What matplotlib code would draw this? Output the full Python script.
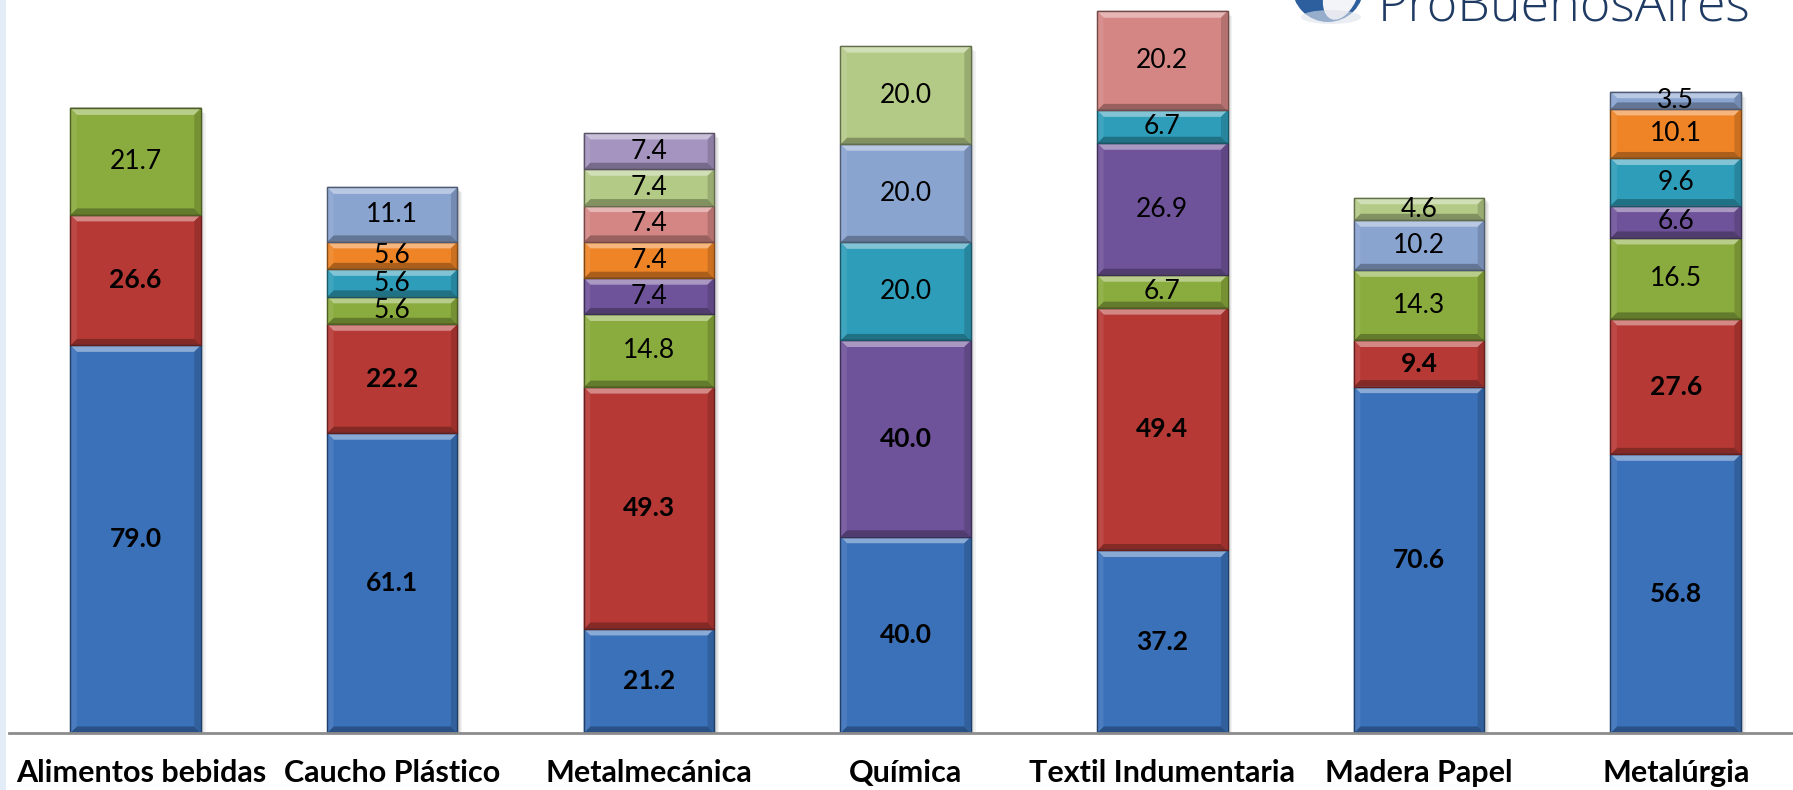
import matplotlib
matplotlib.use("Agg")
import matplotlib.pyplot as plt
import matplotlib.colors as mcolors
from matplotlib.patches import Polygon, Circle, Ellipse, Rectangle
from matplotlib.transforms import ScaledTranslation

# --- data -------------------------------------------------------------
categories = ["Alimentos bebidas", "Caucho Plástico", "Metalmecánica", "Química",
              "Textil Indumentaria", "Madera Papel", "Metalúrgia"]

s_blue = [79.0, 61.1, 21.2, 40.0, 37.2, 70.6, 56.8]
s_red = [26.6, 22.2, 49.3, 0, 49.4, 9.4, 27.6]
s_green = [21.7, 5.6, 14.8, 0, 6.7, 14.3, 16.5]
s_purple = [0, 0, 7.4, 40.0, 26.9, 0, 6.6]
s_cyan = [0, 5.6, 0, 20.0, 6.7, 0, 9.6]
s_orange = [0, 5.6, 7.4, 0, 0, 0, 10.1]
s_rose = [0, 0, 7.4, 0, 20.2, 0, 0]
s_lightblue = [0, 11.1, 0, 20.0, 0, 10.2, 3.5]
s_lightgreen = [0, 0, 7.4, 20.0, 0, 4.6, 0]
s_lavender = [0, 0, 7.4, 0, 0, 0, 0]

series = [s_blue, s_red, s_green, s_purple, s_cyan, s_orange,
          s_rose, s_lightblue, s_lightgreen, s_lavender]
colors = ["#3A71B9", "#B63935", "#8AAB3D", "#6F539A", "#2E9DB9", "#EE8426",
          "#D38683", "#8AA4D0", "#B3CA86", "#A494BF"]
# labels drawn in bold: whole first two series plus one extra cell
bold_series = {0, 1}
bold_cells = {(3, 3)}

# --- figure -----------------------------------------------------------
W, H, DPI = 1793, 790, 100
fig = plt.figure(figsize=(W / DPI, H / DPI), dpi=DPI)
fig.patch.set_facecolor("white")

ax = fig.add_axes([9 / W, 57 / H, 1 - 9 / W, 733 / H])
ax.set_xlim(-0.493, 6.457)
ax.set_ylim(0, 149.4)
for side in ("top", "right", "left"):
    ax.spines[side].set_visible(False)
ax.spines["bottom"].set_color("#8C8C8C")
ax.spines["bottom"].set_linewidth(2)
ax.spines["bottom"].set_zorder(5)
ax.set_yticks([])

x = list(range(len(categories)))
width = 0.508

# pixel -> data conversion for bevel depth
ax_w_px = W * (1 - 9 / W)
ax_h_px = 733
px_x = (6.457 + 0.493) / ax_w_px
px_y = 149.4 / ax_h_px
d = 6.5

def shade(c, f):
    r, g, b = mcolors.to_rgb(c)
    if f >= 0:
        return (r + (1 - r) * f, g + (1 - g) * f, b + (1 - b) * f)
    return (r * (1 + f), g * (1 + f), b * (1 + f))

bottoms = [0.0] * len(categories)
totals = [sum(s[i] for s in series) for i in range(len(categories))]

# soft shadow behind each stack
for i in x:
    for k in range(4):
        off = (k + 1) * 1.2
        ax.add_patch(Rectangle((i - width / 2 + off * px_x, -off * px_y),
                               width, totals[i], facecolor="#000000",
                               alpha=0.05, lw=0, zorder=1))

for si, (vals, col) in enumerate(zip(series, colors)):
    bars = ax.bar(x, vals, width, bottom=bottoms, color=col,
                  edgecolor=shade(col, -0.45), linewidth=0.8, zorder=2)
    for i, (rect, v) in enumerate(zip(bars, vals)):
        if v <= 0:
            continue
        x0, y0 = rect.get_x(), rect.get_y()
        x1, y1 = x0 + rect.get_width(), y0 + rect.get_height()
        dx, dy = d * px_x, min(d * px_y, (y1 - y0) / 2.2)
        bevels = [
            ([(x0, y1), (x1, y1), (x1 - dx, y1 - dy), (x0 + dx, y1 - dy)], 0.40),
            ([(x0, y0), (x1, y0), (x1 - dx, y0 + dy), (x0 + dx, y0 + dy)], -0.28),
            ([(x0, y0), (x0, y1), (x0 + dx, y1 - dy), (x0 + dx, y0 + dy)], 0.08),
            ([(x1, y0), (x1, y1), (x1 - dx, y1 - dy), (x1 - dx, y0 + dy)], -0.15),
        ]
        for pts, f in bevels:
            ax.add_patch(Polygon(pts, closed=True, facecolor=shade(col, f),
                                 lw=0, zorder=3))
        ax.add_patch(Rectangle((x0, y0), x1 - x0, y1 - y0, fill=False,
                               edgecolor=shade(col, -0.45), lw=1.0, zorder=4))
        bold = si in bold_series or (si, i) in bold_cells
        ax.text(rect.get_x() + rect.get_width() / 2, y0 + v / 2, f"{v:.1f}",
                ha="center", va="center", fontsize=19, family="Lato",
                fontweight="bold" if bold else "normal", color="black", zorder=6)
    bottoms = [b + v for b, v in zip(bottoms, vals)]

ax.set_xticks(x)
ax.set_xticklabels(categories, fontsize=22, fontweight="bold", family="Lato")
ax.tick_params(axis="x", length=0, pad=19)
# keep the first category label clear of the left border
first = ax.get_xticklabels()[0]
first.set_transform(first.get_transform()
                    + ScaledTranslation(6 / DPI, 0, fig.dpi_scale_trans))

# light border strip on the left edge
fig.add_artist(Rectangle((0, 0), 6 / W, 1, transform=fig.transFigure,
                         facecolor="#E3EDF8", lw=0))

# logo in the upper right corner
fig.text(1378 / W, (H - 21) / H, "ProBuenosAires", fontsize=37.5,
         fontweight="light", family="Open Sans", color="#1F3A63",
         ha="left", va="baseline")
gx, gy, gr = 1328, H + 14, 36
fig.add_artist(Circle((gx, gy), gr, transform=None, facecolor="#2D5F9E", lw=0))
fig.add_artist(Ellipse((gx + 14, gy - 4), 34, 62, angle=-20, transform=None,
                       facecolor="#F2F4F7", lw=0))
fig.add_artist(Ellipse((gx + 3, gy - 31), 60, 14, transform=None,
                       facecolor="#DDE3EA", lw=0, alpha=0.6))

fig.savefig("out.png", dpi=DPI)
